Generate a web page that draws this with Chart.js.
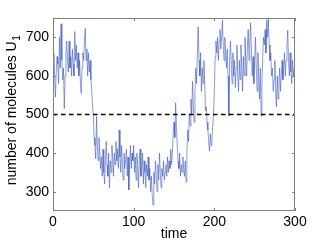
<!DOCTYPE html>
<html>
<head>
<meta charset="utf-8">
<script src="https://cdn.jsdelivr.net/npm/chart.js@4"></script>
<style>
  html, body { margin: 0; padding: 0; background: #fff; }
</style>
</head>
<body>
<canvas id="moleculeChart" width="326" height="245"></canvas>
<script>
// values, one per time unit
var counts = [
  620, 660, 600, 545, 610, 650, 630, 580, 700, 620,
  735, 640, 590, 620, 515, 600, 660, 690, 640, 610,
  690, 620, 650, 600, 670, 630, 600, 715, 640, 680,
  620, 660, 600, 640, 580, 555, 620, 660, 640, 690,
  723, 640, 670, 600, 660, 610, 640, 590, 560, 520,
  500, 440, 420, 385, 495, 420, 380, 440, 400, 360,
  390, 340, 410, 350, 320, 380, 430, 370, 340, 400,
  310, 380, 350, 420, 390, 340, 400, 370, 430, 380,
  410, 360, 460, 390, 350, 420, 370, 330, 400, 360,
  380, 410, 340, 390, 305, 370, 420, 360, 400, 380,
  420, 350, 390, 330, 400, 370, 310, 380, 410, 340,
  360, 400, 320, 380, 350, 310, 370, 340, 390, 330,
  360, 300, 340, 290, 265, 350, 320, 380, 340, 300,
  370, 330, 400, 350, 310, 360, 340, 380, 330, 350,
  370, 340, 390, 350, 380, 360, 410, 370, 400, 450,
  480, 440, 530, 470, 420, 380, 360, 400, 340, 370,
  350, 390, 360, 340, 380, 325, 400, 460, 430, 500,
  470, 540, 500, 586, 520, 480, 560, 620, 580, 660,
  727, 640, 600, 660, 560, 620, 580, 640, 590, 510,
  520, 480, 460, 430, 405, 450, 420, 440, 470, 500,
  560, 650, 690, 660, 700, 640, 690, 720, 670, 700,
  744, 680, 640, 700, 660, 620, 670, 600, 497, 640,
  690, 630, 580, 660, 600, 640, 570, 620, 680, 600,
  560, 640, 590, 680, 620, 560, 650, 600, 700, 640,
  600, 680, 720, 640, 690, 737, 660, 600, 650, 580,
  640, 700, 620, 560, 660, 600, 540, 620, 496, 580,
  650, 700, 680, 720, 660, 745, 700, 747, 680, 640,
  660, 600, 620, 560, 590, 640, 560, 520, 600, 540,
  580, 620, 560, 600, 640, 590, 620, 660, 600, 640,
  680, 718, 640, 600, 660, 610, 580, 640, 600, 620,
  600
];
var times = counts.map(function (v, i) { return i; });
var threshold = 500;
var xTicks = [0, 100, 200, 300];
var yTicks = [300, 400, 500, 600, 700];

var fontFamily = "'Liberation Sans', Arial, Helvetica, sans-serif";
var font = { family: fontFamily, size: 14 };

// matlab style box with ticks pointing inwards, plus the y title with a real subscript
var boxPlugin = {
  id: 'box',
  afterDraw: function (chart) {
    var c = chart.ctx, a = chart.chartArea;
    var xs = chart.scales.x, ys = chart.scales.y;
    c.save();
    c.strokeStyle = '#808080';
    c.lineWidth = 1;
    c.strokeRect(a.left + 0.5, a.top + 0.5, a.right - a.left - 1, a.bottom - a.top - 1);
    c.beginPath();
    xTicks.forEach(function (t) {
      var px = Math.round(xs.getPixelForValue(t)) + 0.5;
      c.moveTo(px, a.bottom); c.lineTo(px, a.bottom - 3);
      c.moveTo(px, a.top); c.lineTo(px, a.top + 3);
    });
    yTicks.forEach(function (t) {
      var py = Math.round(ys.getPixelForValue(t)) + 0.5;
      c.moveTo(a.left, py); c.lineTo(a.left + 3, py);
      c.moveTo(a.right, py); c.lineTo(a.right - 3, py);
    });
    c.stroke();

    // y title
    var main = 'number of molecules U';
    c.fillStyle = '#000';
    c.font = '14px ' + fontFamily;
    var w = c.measureText(main).width;
    c.font = '10px ' + fontFamily;
    var ws = c.measureText('1').width;
    var total = w + ws;
    var cy = (a.top + a.bottom) / 2 - 4;
    c.translate(15.5, cy);
    c.rotate(-Math.PI / 2);
    c.textBaseline = 'alphabetic';
    c.textAlign = 'left';
    c.font = '14px ' + fontFamily;
    c.fillText(main, -total / 2, 0);
    c.font = '10px ' + fontFamily;
    c.fillText('1', -total / 2 + w + 0.5, 4);
    c.restore();
  }
};

var ctx = document.getElementById('moleculeChart').getContext('2d');
var moleculeChart = new Chart(ctx, {
  type: 'line',
  data: {
    datasets: [{
      label: 'U1',
      data: times.map(function (t, i) { return { x: t, y: counts[i] }; }),
      borderColor: 'rgba(60, 90, 185, 0.85)',
      borderWidth: 0.7,
      pointRadius: 0,
      tension: 0,
      order: 2
    }, {
      label: 'threshold',
      data: [{ x: 0, y: threshold }, { x: 300, y: threshold }],
      borderColor: '#000',
      borderWidth: 1.6,
      borderDash: [4.5, 3.5],
      pointRadius: 0,
      order: 1
    }]
  },
  options: {
    responsive: false,
    animation: false,
    devicePixelRatio: 1,
    layout: { padding: { top: 18, right: 31, left: 0, bottom: 0 } },
    plugins: { legend: { display: false }, tooltip: { enabled: false } },
    scales: {
      x: {
        type: 'linear',
        min: 0,
        max: 300,
        afterBuildTicks: function (s) { s.ticks = xTicks.map(function (v) { return { value: v }; }); },
        afterFit: function (s) { s.height = 34; },
        grid: { display: false, drawTicks: false },
        border: { display: false },
        ticks: { color: '#000', font: font, padding: 3, maxRotation: 0 },
        title: { display: true, text: 'time', color: '#000', font: font, padding: { top: 0, bottom: 2 } }
      },
      y: {
        min: 250,
        max: 750,
        afterBuildTicks: function (s) { s.ticks = yTicks.map(function (v) { return { value: v }; }); },
        afterFit: function (s) { s.width = 53; },
        grid: { display: false, drawTicks: false },
        border: { display: false },
        ticks: { color: '#000', font: font, padding: 4 },
        title: { display: false }
      }
    }
  },
  plugins: [boxPlugin]
});
</script>
</body>
</html>
